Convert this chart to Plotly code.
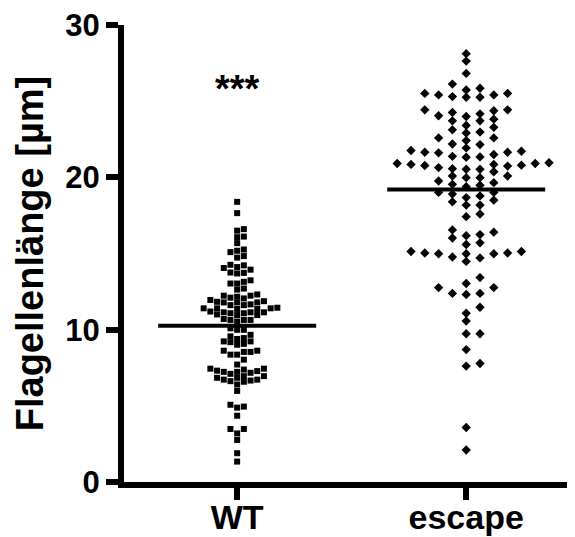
import plotly.graph_objects as go

# ---------------- data ----------------
categories = ["WT", "escape"]

wt_values = [
    18.39, 17.65, 16.60, 16.50, 16.11, 16.07, 15.68, 15.18, 15.26, 15.09, 14.83, 14.73,
    13.94, 14.22, 14.05, 14.11, 14.26, 13.75, 13.69, 13.73,
    13.14, 13.03, 13.03, 13.24, 12.63, 12.70,
    12.23, 12.23, 12.31,
    12.16, 12.05, 11.87, 11.79, 11.79, 11.83, 11.79, 11.95, 12.10,
    11.66, 11.61, 11.40, 11.36, 11.36, 11.40, 11.40, 11.44, 11.61,
    11.19, 11.14, 11.00, 11.08, 11.14, 10.96, 11.08, 10.96, 11.14,
    10.53, 10.64, 10.64, 10.70, 10.64,
    9.99, 9.99, 10.09, 9.66, 9.56,
    9.39, 9.23, 9.07, 9.01, 9.18, 9.23, 9.45,
    8.62, 8.54, 8.36, 8.36, 8.54, 8.62,
    8.03, 7.71,
    7.44, 7.38, 7.28, 7.23, 7.10, 7.17, 7.23, 7.31, 7.44,
    6.95, 6.84, 6.72, 6.62, 6.58, 6.66, 6.40, 6.72, 6.84, 6.95,
    5.98, 4.95, 4.88, 5.07, 4.35, 3.48, 3.48, 3.19, 2.76, 1.89, 1.34,
]

escape_values = [
    28.12, 27.63, 26.82,
    25.85, 25.51, 25.41, 25.30, 25.26, 25.26, 25.41, 25.51, 25.73, 26.12,
    24.37, 24.17, 23.99, 24.43, 24.43, 23.71, 23.41, 23.71, 23.82, 24.04, 24.26,
    23.12, 22.91, 22.59, 22.41, 22.59, 22.97, 23.28,
    22.19, 21.93, 21.65, 21.71, 21.32, 21.50, 21.34, 21.38, 21.61, 21.65, 21.76, 22.15,
    20.85, 20.80, 20.74, 20.64, 20.91, 20.53, 20.96, 20.37, 20.53, 20.57, 20.78, 20.91, 20.85,
    20.09, 19.98, 19.65, 19.48, 19.54, 19.76, 19.98, 20.09,
    19.39, 19.01, 18.78, 18.50, 18.18, 18.39, 18.67, 18.90, 18.18, 19.01,
    17.42, 17.59,
    16.40, 16.17, 15.70, 15.59, 16.02, 16.24, 16.55,
    15.13, 14.98, 15.03, 14.77, 14.48, 14.71, 14.98, 14.98, 15.03, 15.13,
    13.42,
    12.76, 12.38, 12.31, 12.38, 12.76, 13.03,
    11.47, 11.08, 10.57, 9.73, 9.73, 8.69, 7.61, 7.78, 3.58, 2.10,
]

group_means = [10.25, 19.2]
significance = ["***", ""]

y_ticks = [0, 10, 20, 30]

# ---------------- geometry helpers ----------------
# page body adds an 8px margin, so the figure is sized to fill the rest
W, H = 567, 529
M_L, M_R, M_T, M_B = 116, 0, 17, 55
X_RANGE = [-0.494, 1.475]
Y_RANGE = [0, 30]
plot_w = W - M_L - M_R
plot_h = H - M_T - M_B
px_per_x = plot_w / (X_RANGE[1] - X_RANGE[0])
px_per_y = plot_h / (Y_RANGE[1] - Y_RANGE[0])


def swarm_offsets(values, step_px, dy_px):
    """Greedy beeswarm: returns x offsets (data units) for each value."""
    order = sorted(range(len(values)), key=lambda i: values[i])
    placed = []
    offs = [0.0] * len(values)
    cand_list = [0]
    for n in range(1, 40):
        cand_list += [n, -n]
    for i in order:
        y = values[i] * px_per_y
        x = 0.0
        for k in cand_list:
            x = k * step_px
            ok = True
            for (px, py) in placed:
                if abs(px - x) < step_px * 0.95 and abs(py - y) < dy_px:
                    ok = False
                    break
            if ok:
                break
        placed.append((x, y))
        offs[i] = x / px_per_x
    return offs


fig = go.Figure()

groups = [
    (wt_values, "square", 6, 6.7, 5.5),
    (escape_values, "diamond", 7.2, 13.8, 7.0),
]

for gi, (vals, sym, size, step, dy) in enumerate(groups):
    offs = swarm_offsets(vals, step, dy)
    fig.add_trace(go.Scatter(
        x=[gi + o for o in offs], y=vals, mode="markers",
        marker=dict(symbol=sym, size=size, color="black", line=dict(width=0)),
        showlegend=False, hoverinfo="y", cliponaxis=False,
    ))

half_w = 0.345
for gi, m in enumerate(group_means):
    fig.add_trace(go.Scatter(
        x=[gi - half_w, gi + half_w], y=[m, m], mode="lines",
        line=dict(color="black", width=4), showlegend=False, hoverinfo="skip",
    ))

font_family = "Liberation Sans, Arial, sans-serif"

for gi, s in enumerate(significance):
    if s:
        fig.add_annotation(
            x=gi, y=25.8, text=s, showarrow=False, xanchor="center", yanchor="middle",
            font=dict(family=font_family, size=38, color="black", weight="bold"),
        )

fig.update_layout(
    width=W, height=H,
    margin=dict(l=M_L, r=M_R, t=M_T, b=M_B, autoexpand=False),
    paper_bgcolor="white", plot_bgcolor="white",
    font=dict(family=font_family, color="black"),
    xaxis=dict(
        range=X_RANGE, tickmode="array", tickvals=[0, 1], ticktext=categories,
        showline=True, linewidth=6, linecolor="black",
        ticks="outside", ticklen=12, tickwidth=6, tickcolor="black",
        ticklabelstandoff=-12, ticklabeloverflow="allow",
        tickfont=dict(size=34, family=font_family, weight="bold", color="black"),
        showgrid=False, zeroline=False, fixedrange=True,
    ),
    yaxis=dict(
        range=Y_RANGE, tickmode="array", tickvals=y_ticks,
        showline=True, linewidth=6, linecolor="black",
        ticks="outside", ticklen=12, tickwidth=6, tickcolor="black",
        ticklabeloverflow="allow",
        tickfont=dict(size=31, family=font_family, weight="bold", color="black"),
        showgrid=False, zeroline=False, fixedrange=True,
        title=dict(text="Flagellenlänge [µm]", standoff=12,
                   font=dict(size=38, family=font_family, weight="bold", color="black")),
    ),
)

fig.write_html("out.html")
